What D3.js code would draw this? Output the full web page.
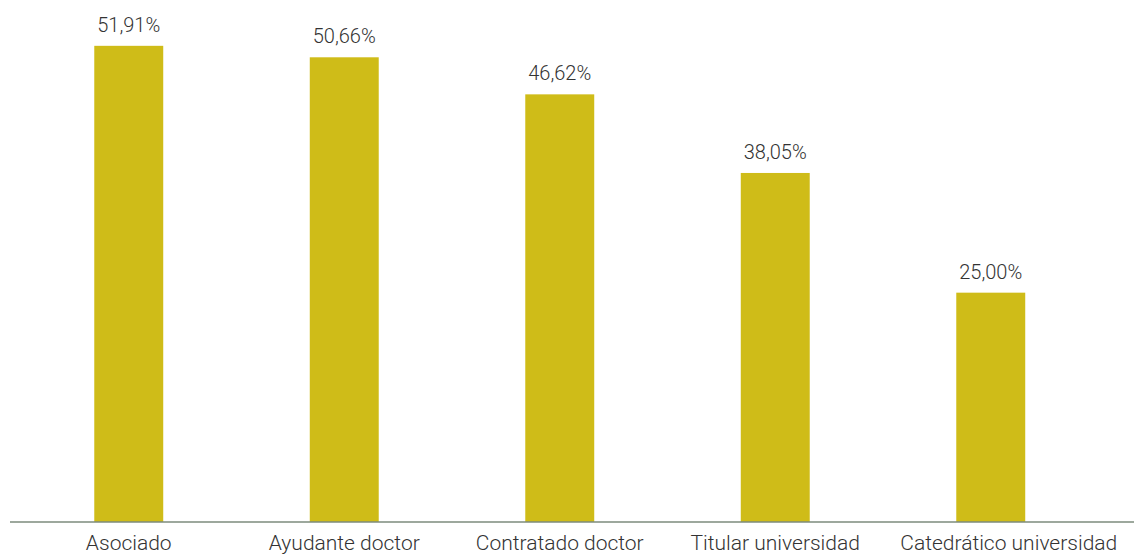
<!doctype html>
<html lang="es">
<head>
  <meta charset="utf-8">
  <title>Bar chart - D3</title>
  <style>
    body { margin: 0; background: #fff; }
    text { font-family: Roboto, "Open Sans", sans-serif; font-weight: 300; fill: #333; }
  </style>
</head>
<body>
  <svg width="1134" height="556"></svg>
  <script src="https://cdn.jsdelivr.net/npm/d3@7"></script>
  <script>
    var categories = ['Asociado', 'Ayudante doctor', 'Contratado doctor', 'Titular universidad', 'Catedrático universidad'];
    var values = [51.91, 50.66, 46.62, 38.05, 25.00];

    var svg = d3.select('svg');
    var baseline = 522;

    var x = d3.scaleBand()
      .domain(categories)
      .range([21, 1098.5])
      .paddingInner(0.68)
      .paddingOuter(0.34);

    var y = d3.scaleLinear()
      .domain([0, 52])
      .range([baseline, 45]);

    var fmt = function (v) { return v.toFixed(2).replace('.', ',') + '%'; };

    // barras
    svg.selectAll('rect.bar').data(values).enter()
      .append('rect')
      .attr('class', 'bar')
      .attr('x', (v, i) => x(categories[i]))
      .attr('y', v => y(v))
      .attr('width', x.bandwidth())
      .attr('height', v => baseline - y(v))
      .attr('fill', '#cfbc18');

    // etiquetas de valor
    svg.selectAll('text.val').data(values).enter()
      .append('text')
      .attr('class', 'val')
      .attr('x', (v, i) => x(categories[i]) + x.bandwidth() / 2)
      .attr('y', v => y(v) - 14)
      .attr('text-anchor', 'middle')
      .attr('font-size', '20px')
      .text(fmt);

    // eje
    svg.append('line')
      .attr('x1', 10).attr('x2', 1134)
      .attr('y1', baseline).attr('y2', baseline)
      .attr('stroke', '#7d8b7d')
      .attr('stroke-width', 1.5);

    var xAxis = svg.append('g').attr('transform', 'translate(0,' + baseline + ')')
      .call(d3.axisBottom(x).tickSize(0).tickPadding(13));
    xAxis.select('.domain').remove();
    xAxis.selectAll('text')
      .attr('font-size', '21px')
      .attr('dy', '0.71em')
      .attr('dx', (d, i) => i === categories.length - 1 ? 18 : 0)
      .style('font-family', 'Roboto, sans-serif')
      .style('font-weight', 300)
      .style('fill', '#333');
  </script>
</body>
</html>
